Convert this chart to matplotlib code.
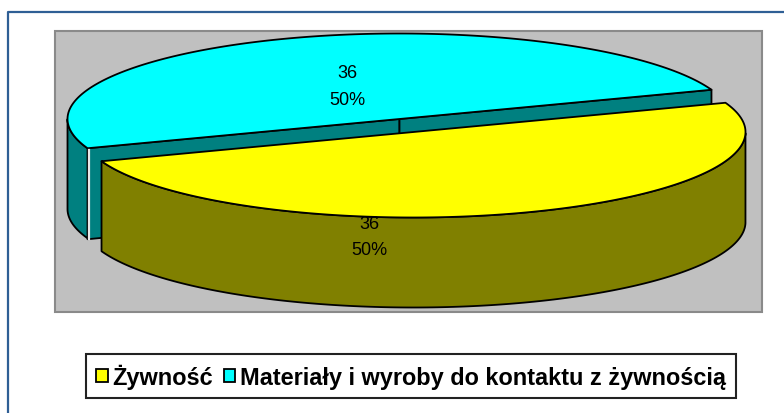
import numpy as np
import matplotlib
matplotlib.use("Agg")
import matplotlib.pyplot as plt
from matplotlib.patches import Patch, Rectangle

plt.rcParams["font.family"] = ["Liberation Sans", "DejaVu Sans"]

# Data
categories = ["Żywność", "Materiały i wyroby do kontaktu z żywnością"]
values = [36, 36]
percents = ["50%", "50%"]

top_colors = ["#FFFF00", "#00FFFF"]
side_colors = ["#808000", "#008080"]

# Pie geometry, in image pixels
rx = 332
ry = 85.5
depth = 90
start_angle = 20
centers = [(413.5, 133), (399.5, 120)]
label_pos = [(369, 225, 251), (347, 74, 101)]

fig = plt.figure(figsize=(7.84, 4.14), dpi=100)
ax = fig.add_axes([0, 0, 1, 1])
ax.set_xlim(0, 784)
ax.set_ylim(414, 0)
ax.axis("off")

# Outer frame and plot area
ax.plot([8, 8, 784], [414, 12.5, 12.5], color="#2F5F95", lw=1.6)
ax.add_patch(Rectangle((55, 32), 707, 281, fc="#C0C0C0", ec="#8A8A8A", lw=1.5))


def ell(c, t):
    t = np.radians(t)
    return c[0] + rx * np.cos(t), c[1] - ry * np.sin(t)


# Slice angles come from the values, clockwise from start_angle
fracs = np.array(values) / sum(values)
ends = start_angle - np.cumsum(fracs) * 360
starts = np.r_[start_angle, ends[:-1]]
line = dict(edgecolor="black", linewidth=1.3, joinstyle="round")

# Second slice (behind) first, then the first one over it
for i in [1, 0]:
    c = centers[i]
    a1, a2 = starts[i], ends[i]

    # Cut faces, seen only on the back slice
    if i == 1:
        for a in (a1, a2):
            px, py = ell(c, a)
            ax.fill([c[0], px, px, c[0]], [c[1], py, py + depth + 1, c[1] + depth],
                    facecolor=side_colors[i], **line)

    # Outer wall: the part of the rim on the front of the ellipse
    t = np.linspace(a1, a2, 200)
    t = t[np.sin(np.radians(t)) <= 0.0]
    if len(t) > 0:
        xs, ys = ell(c, t)
        ax.fill(np.r_[xs, xs[::-1]], np.r_[ys, ys[::-1] + depth],
                facecolor=side_colors[i], **line)

    # thin light gap between wall and cut face
    if i == 1:
        px, py = ell(c, a1)
        ax.plot([px + 1, px + 1], [py + 2, py + depth + 1], color="#E8E8E8", lw=1.6)

    # Top face
    t = np.linspace(a1, a2, 200)
    xs, ys = ell(c, t)
    ax.fill(np.r_[c[0], xs], np.r_[c[1], ys], facecolor=top_colors[i], **line)

for i in [0, 1]:
    x, y1, y2 = label_pos[i]
    ax.text(x, y1, str(values[i]), ha="center", va="center", fontsize=13)
    ax.text(x, y2, percents[i], ha="center", va="center", fontsize=13)

# Legend
handles = [Patch(facecolor=top_colors[i], edgecolor="black", lw=1.3, label=categories[i]) for i in range(2)]
leg = fig.legend(handles=handles, ncol=2, loc="center", bbox_to_anchor=(411 / 784, 1 - 377 / 414),
                 fontsize=16.9, frameon=True, fancybox=False, edgecolor="#222222", framealpha=1,
                 handlelength=0.5, handleheight=0.5, handletextpad=0.2, columnspacing=0.45,
                 borderpad=0.42, borderaxespad=0)
leg.get_frame().set_linewidth(1.5)
for txt in leg.get_texts():
    txt.set_fontweight("bold")

fig.savefig("out.png", dpi=100)
